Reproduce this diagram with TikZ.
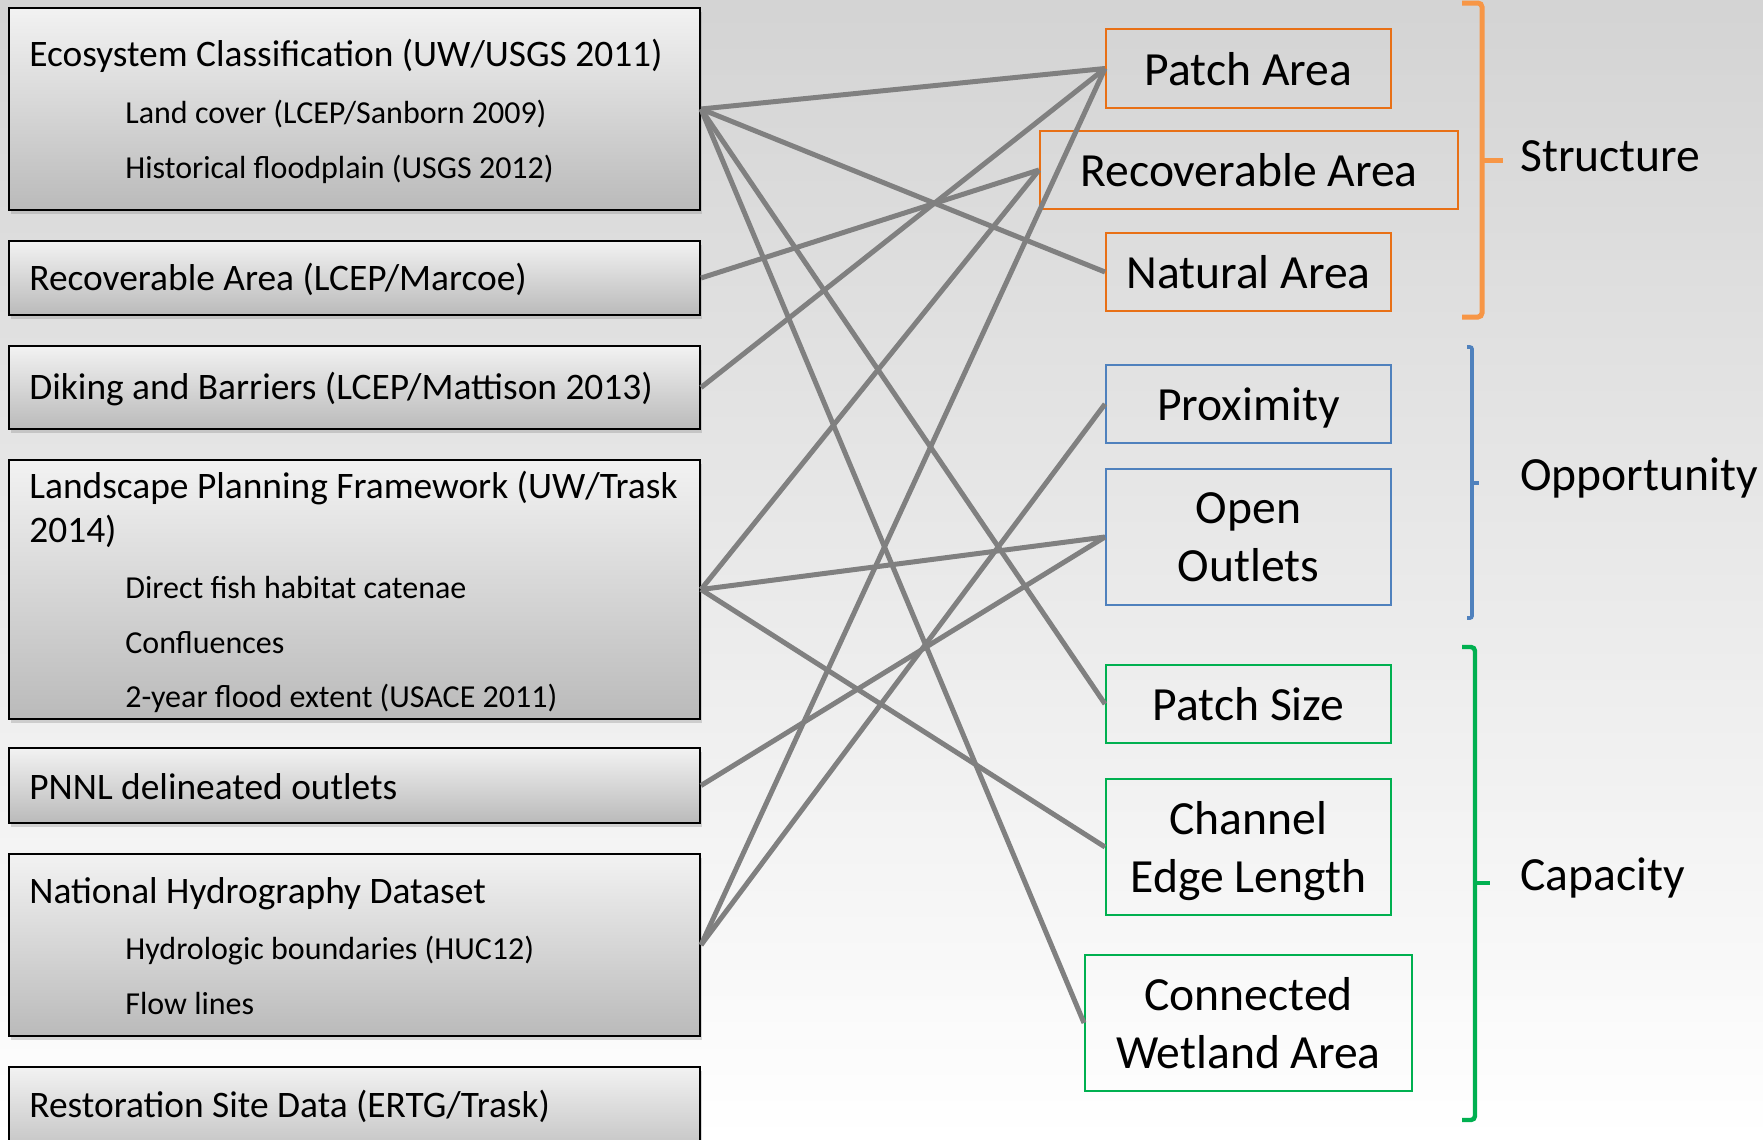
\documentclass[tikz,border=0pt]{standalone}
\usepackage{fontspec}
\setmainfont{Carlito}
\usetikzlibrary{shadows}
\definecolor{linkgray}{RGB}{128,128,128}
\definecolor{boxorange}{RGB}{232,112,22}
\definecolor{braceorange}{RGB}{247,150,70}
\definecolor{oppblue}{RGB}{79,129,189}
\definecolor{capgreen}{RGB}{0,176,80}
\begin{document}
\begin{tikzpicture}[x=0.5pt,y=0.5pt,yscale=-1,xscale=1,
    srcbox/.style={draw=black, line width=1pt, top color=black!5, bottom color=black!27,
        drop shadow={opacity=0.3, shadow xshift=1pt, shadow yshift=-2pt},
        minimum width=345.5pt, inner sep=0pt},
    head/.style={anchor=base west, inner sep=0pt, font=\fontsize{18.7}{22.5}\selectfont},
    item/.style={anchor=base west, inner sep=0pt, font=\fontsize{16}{19.5}\selectfont},
    measure/.style={draw, line width=1pt, align=center, inner sep=0pt, text depth=0pt,
        font=\fontsize{23.8}{29}\selectfont},
    group/.style={anchor=base west, inner sep=0pt, font=\fontsize{23.8}{29}\selectfont},
    link/.style={draw=linkgray, line width=2.5pt}]
    \useasboundingbox (0,0) rectangle (1763,1140);
    \shade [top color=black!17, bottom color=white] (0,0) rectangle (1763,1140);
    % data sources
    \node [srcbox, minimum height=101pt] (eco) at (354.5,109) {};
    \node [srcbox, minimum height=37pt] (recov) at (354.5,278) {};
    \node [srcbox, minimum height=41.5pt] (dike) at (354.5,387.5) {};
    \node [srcbox, minimum height=129.5pt] (lpf) at (354.5,589.5) {};
    \node [srcbox, minimum height=37.5pt] (pnnl) at (354.5,785.5) {};
    \node [srcbox, minimum height=91pt] (nhd) at (354.5,945) {};
    \node [srcbox, minimum height=50pt] (rsd) at (354.5,1117) {};
    \node [head] (ecoT) at (29,66.7) {Ecosystem Classification (UW/USGS 2011)};
    \node [item] (ecoA) at (125,123) {Land cover (LCEP/Sanborn 2009)};
    \node [item] (ecoB) at (125,178) {Historical floodplain (USGS 2012)};
    \node [head] (recovT) at (29,290) {Recoverable Area (LCEP/Marcoe)};
    \node [head] (dikeT) at (29,399) {Diking and Barriers (LCEP/Mattison 2013)};
    \node [head] (lpfT) at (29,498) {Landscape Planning Framework (UW/Trask};
    \node [head] (lpfU) at (29,542.7) {2014)};
    \node [item] (lpfA) at (125,598.5) {Direct fish habitat catenae};
    \node [item] (lpfB) at (125,653) {Confluences};
    \node [item] (lpfC) at (125,707) {2-year flood extent (USACE 2011)};
    \node [head] (pnnlT) at (29,799) {PNNL delineated outlets};
    \node [head] (nhdT) at (29,903) {National Hydrography Dataset};
    \node [item] (nhdA) at (125,959) {Hydrologic boundaries (HUC12)};
    \node [item] (nhdB) at (125,1014) {Flow lines};
    \node [head] (rsdT) at (29,1117) {Restoration Site Data (ERTG/Trask)};
    % metrics
    \node [measure, draw=boxorange, minimum width=142.5pt, minimum height=39.5pt] (patcharea) at (1248.5,68.5) {Patch Area};
    \node [measure, draw=boxorange, minimum width=209pt, minimum height=39pt] (recarea) at (1249,170) {Recoverable Area};
    \node [measure, draw=boxorange, minimum width=142.5pt, minimum height=39pt] (natarea) at (1248.5,272) {Natural Area};
    \node [measure, draw=oppblue, minimum width=142.5pt, minimum height=39pt] (prox) at (1248.5,404) {Proximity};
    \node [measure, draw=oppblue, minimum width=142.5pt, minimum height=68pt] (outlets) at (1248.5,537) {Open\\Outlets};
    \node [measure, draw=capgreen, minimum width=142.5pt, minimum height=38.75pt] (patchsize) at (1248.5,704) {Patch Size};
    \node [measure, draw=capgreen, minimum width=142.5pt, minimum height=68pt] (edge) at (1248.5,847) {Channel\\Edge Length};
    \node [measure, draw=capgreen, minimum width=163.5pt, minimum height=68pt] (wetland) at (1248.5,1023) {Connected\\Wetland Area};
    % links
    \draw [link] (eco.east) -- (patcharea.west);
    \draw [link] (eco.east) -- (natarea.west);
    \draw [link] (eco.east) -- (patchsize.west);
    \draw [link] (eco.east) -- (wetland.west);
    \draw [link] (recov.east) -- (recarea.west);
    \draw [link] (dike.east) -- (patcharea.west);
    \draw [link] (lpf.east) -- (recarea.west);
    \draw [link] (lpf.east) -- (outlets.west);
    \draw [link] (lpf.east) -- (edge.west);
    \draw [link] (pnnl.east) -- (outlets.west);
    \draw [link] (nhd.east) -- (patcharea.west);
    \draw [link] (nhd.east) -- (prox.west);
    % groups
    \draw [braceorange, line width=2.5pt, rounded corners=2pt] (1462,3) -- (1482,3) -- (1482,317) -- (1462,317);
    \draw [braceorange, line width=2.5pt] (1482,160) -- (1503,160);
    \draw [oppblue, line width=1.8pt, rounded corners=1pt] (1467,347) -- (1472,347) -- (1472,618) -- (1467,618);
    \draw [oppblue, line width=1.8pt] (1472,483) -- (1479,483);
    \draw [capgreen, line width=2.2pt, rounded corners=2pt] (1462,647) -- (1475,647) -- (1475,1120) -- (1462,1120);
    \draw [capgreen, line width=2.2pt] (1475,883) -- (1490,883);
    \node [group] (structure) at (1520,171.4) {Structure};
    \node [group] (opportunity) at (1520,490) {Opportunity};
    \node [group] (capacity) at (1520,890.7) {Capacity};
\end{tikzpicture}
\end{document}
